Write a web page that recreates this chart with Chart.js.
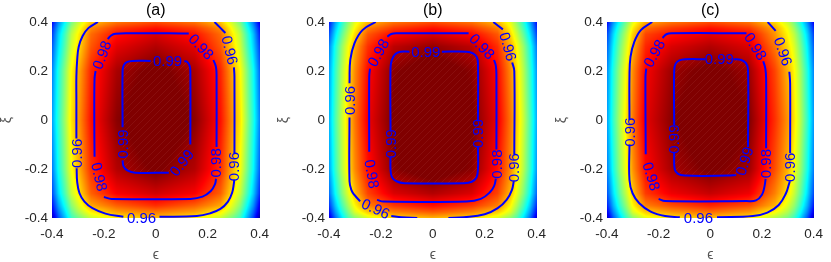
<!DOCTYPE html>
<html>
<head>
<meta charset="utf-8">
<script src="https://cdn.jsdelivr.net/npm/chart.js@4.4.0/dist/chart.umd.min.js"></script>
<style>
  html, body { margin: 0; padding: 0; background: #fff; }
  #wrap { position: relative; width: 831px; height: 262px; overflow: hidden; }
  #wrap canvas { position: absolute; top: 0; }
</style>
</head>
<body>
<div id="wrap">
  <canvas id="panelA" width="277" height="262" style="left:0"></canvas>
  <canvas id="panelB" width="277" height="262" style="left:277px"></canvas>
  <canvas id="panelC" width="276" height="262" style="left:555px"></canvas>
</div>
<script>
// axis ticks
const xTicks = [-0.4, -0.2, 0, 0.2, 0.4];
const yTicks = [-0.4, -0.2, 0, 0.2, 0.4];

// colour limits of the jet map
const colorMin = 0.89;
const colorMax = 0.99;

// grid nodes of the sampled field (epsilon, xi)
const gridX = [-0.4, -0.375, -0.35, -0.325, -0.3, -0.25, -0.15, 0, 0.15, 0.25, 0.3, 0.325, 0.35, 0.375, 0.4];
const gridY = [-0.4, -0.375, -0.35, -0.3, -0.2, 0, 0.2, 0.3, 0.35, 0.375, 0.4];

// field values, one row per gridY (bottom to top)
const fieldA = [
  [0.895, 0.910, 0.921, 0.933, 0.938, 0.947, 0.954, 0.959, 0.954, 0.947, 0.938, 0.933, 0.921, 0.909, 0.893],
  [0.900, 0.914, 0.925, 0.937, 0.944, 0.954, 0.962, 0.966, 0.962, 0.954, 0.944, 0.937, 0.925, 0.913, 0.898],
  [0.903, 0.918, 0.929, 0.941, 0.948, 0.961, 0.968, 0.973, 0.968, 0.961, 0.948, 0.941, 0.929, 0.917, 0.901],
  [0.909, 0.924, 0.935, 0.947, 0.954, 0.968, 0.978, 0.982, 0.978, 0.968, 0.954, 0.947, 0.935, 0.923, 0.907],
  [0.914, 0.929, 0.940, 0.952, 0.959, 0.973, 0.985, 0.991, 0.985, 0.973, 0.959, 0.952, 0.940, 0.928, 0.912],
  [0.918, 0.932, 0.943, 0.955, 0.962, 0.976, 0.989, 0.996, 0.989, 0.976, 0.962, 0.955, 0.943, 0.931, 0.916],
  [0.915, 0.930, 0.941, 0.953, 0.960, 0.974, 0.986, 0.992, 0.986, 0.974, 0.960, 0.953, 0.941, 0.929, 0.913],
  [0.911, 0.925, 0.936, 0.948, 0.955, 0.969, 0.980, 0.985, 0.980, 0.969, 0.955, 0.948, 0.936, 0.924, 0.909],
  [0.908, 0.923, 0.934, 0.946, 0.953, 0.967, 0.976, 0.981, 0.976, 0.967, 0.953, 0.946, 0.934, 0.922, 0.906],
  [0.906, 0.920, 0.931, 0.943, 0.950, 0.964, 0.972, 0.976, 0.972, 0.964, 0.950, 0.943, 0.931, 0.919, 0.904],
  [0.902, 0.916, 0.927, 0.939, 0.946, 0.958, 0.966, 0.970, 0.966, 0.958, 0.946, 0.939, 0.927, 0.915, 0.900]
];
const fieldB = [
  [0.898, 0.913, 0.925, 0.935, 0.941, 0.949, 0.956, 0.960, 0.956, 0.949, 0.941, 0.935, 0.925, 0.913, 0.898],
  [0.903, 0.918, 0.930, 0.940, 0.949, 0.958, 0.965, 0.969, 0.965, 0.958, 0.949, 0.940, 0.930, 0.918, 0.903],
  [0.907, 0.922, 0.934, 0.944, 0.953, 0.965, 0.972, 0.976, 0.972, 0.965, 0.953, 0.944, 0.934, 0.922, 0.907],
  [0.913, 0.928, 0.940, 0.950, 0.959, 0.971, 0.981, 0.985, 0.981, 0.971, 0.959, 0.950, 0.940, 0.928, 0.913],
  [0.918, 0.933, 0.945, 0.955, 0.964, 0.976, 0.989, 0.994, 0.989, 0.976, 0.964, 0.955, 0.945, 0.933, 0.918],
  [0.920, 0.935, 0.947, 0.957, 0.966, 0.979, 0.991, 0.997, 0.991, 0.979, 0.966, 0.957, 0.947, 0.935, 0.920],
  [0.918, 0.933, 0.945, 0.955, 0.964, 0.977, 0.989, 0.994, 0.989, 0.977, 0.964, 0.955, 0.945, 0.933, 0.918],
  [0.915, 0.930, 0.942, 0.952, 0.961, 0.973, 0.984, 0.988, 0.984, 0.973, 0.961, 0.952, 0.942, 0.930, 0.915],
  [0.910, 0.925, 0.937, 0.947, 0.956, 0.969, 0.977, 0.981, 0.977, 0.969, 0.956, 0.947, 0.937, 0.925, 0.910],
  [0.907, 0.922, 0.934, 0.944, 0.953, 0.965, 0.972, 0.976, 0.972, 0.965, 0.953, 0.944, 0.934, 0.922, 0.907],
  [0.904, 0.919, 0.931, 0.941, 0.950, 0.959, 0.966, 0.970, 0.966, 0.959, 0.950, 0.941, 0.931, 0.919, 0.904]
];
const fieldC = [
  [0.896, 0.911, 0.923, 0.933, 0.941, 0.950, 0.955, 0.959, 0.955, 0.945, 0.939, 0.933, 0.923, 0.911, 0.896],
  [0.901, 0.916, 0.928, 0.938, 0.949, 0.958, 0.963, 0.967, 0.963, 0.953, 0.945, 0.938, 0.928, 0.916, 0.901],
  [0.905, 0.920, 0.932, 0.942, 0.953, 0.965, 0.970, 0.974, 0.970, 0.960, 0.949, 0.942, 0.932, 0.920, 0.905],
  [0.910, 0.925, 0.937, 0.947, 0.958, 0.972, 0.979, 0.983, 0.979, 0.965, 0.955, 0.947, 0.937, 0.925, 0.910],
  [0.915, 0.930, 0.942, 0.952, 0.963, 0.977, 0.986, 0.991, 0.987, 0.970, 0.960, 0.952, 0.942, 0.930, 0.915],
  [0.918, 0.933, 0.945, 0.955, 0.966, 0.980, 0.989, 0.996, 0.990, 0.973, 0.963, 0.955, 0.945, 0.933, 0.918],
  [0.916, 0.931, 0.943, 0.953, 0.964, 0.978, 0.987, 0.992, 0.987, 0.971, 0.960, 0.953, 0.943, 0.931, 0.916],
  [0.912, 0.927, 0.939, 0.949, 0.960, 0.974, 0.981, 0.985, 0.981, 0.966, 0.956, 0.949, 0.939, 0.927, 0.912],
  [0.909, 0.924, 0.936, 0.946, 0.957, 0.971, 0.976, 0.980, 0.977, 0.963, 0.953, 0.946, 0.936, 0.924, 0.909],
  [0.906, 0.921, 0.933, 0.943, 0.954, 0.967, 0.972, 0.976, 0.972, 0.961, 0.951, 0.943, 0.933, 0.921, 0.906],
  [0.902, 0.917, 0.929, 0.939, 0.950, 0.961, 0.966, 0.970, 0.966, 0.956, 0.947, 0.939, 0.929, 0.917, 0.902]
];

// contour lines, split where the labels sit
const a96 = [
  [[-0.223, 0.4], [-0.259, 0.376], [-0.282, 0.343], [-0.297, 0.299], [-0.303, 0.245], [-0.306, 0.177], [-0.306, 0.08], [-0.306, -0.075]],
  [[-0.305, -0.197], [-0.303, -0.252], [-0.294, -0.299], [-0.275, -0.333], [-0.244, -0.36], [-0.194, -0.382], [-0.125, -0.395]],
  [[0.014, -0.395], [0.158, -0.392], [0.209, -0.381], [0.249, -0.363], [0.278, -0.333], [0.294, -0.297], [0.301, -0.258], [0.302, -0.245]],
  [[0.303, -0.135], [0.303, 0.177], [0.301, 0.215]],
  [[0.268, 0.355], [0.245, 0.38], [0.226, 0.4]]
];
const a98 = [
  [[-0.185, 0.33], [-0.172, 0.345], [-0.155, 0.352], [-0.1, 0.354], [0.05, 0.354], [0.127, 0.353]],
  [[0.222, 0.245], [0.232, 0.215], [0.234, 0.17], [0.234, -0.11]],
  [[0.232, -0.24], [0.228, -0.262], [0.212, -0.29], [0.18, -0.313], [0.133, -0.322], [-0.17, -0.322], [-0.2, -0.314]],
  [[-0.236, -0.15], [-0.237, 0.0], [-0.236, 0.17], [-0.232, 0.2]]
];
const a99 = [
  [[-0.128, -0.03], [-0.128, 0.2], [-0.124, 0.222], [-0.112, 0.236], [-0.09, 0.241], [-0.02, 0.241]],
  [[0.11, 0.241], [0.122, 0.236], [0.13, 0.222], [0.133, 0.2], [0.133, -0.1]],
  [[0.05, -0.215], [-0.08, -0.215], [-0.108, -0.207], [-0.124, -0.19], [-0.128, -0.165]]
];
const b96 = [
  [[-0.22, 0.4], [-0.271, 0.367], [-0.302, 0.313], [-0.318, 0.245], [-0.321, 0.15]],
  [[-0.321, 0.01], [-0.321, -0.25], [-0.314, -0.285], [-0.302, -0.306], [-0.28, -0.332]],
  [[-0.16, -0.392], [-0.12, -0.397], [-0.06, -0.4]],
  [[0.06, -0.4], [0.12, -0.397], [0.2, -0.385], [0.25, -0.36], [0.285, -0.325], [0.305, -0.285], [0.312, -0.25]],
  [[0.314, -0.14], [0.314, 0.2], [0.306, 0.235]],
  [[0.27, 0.37], [0.233, 0.4]]
];
const b98 = [
  [[-0.175, 0.34], [-0.16, 0.351], [-0.14, 0.354], [0.138, 0.354]],
  [[0.236, 0.245], [0.243, 0.22], [0.245, 0.18], [0.245, -0.12]],
  [[0.243, -0.24], [0.236, -0.27], [0.22, -0.295], [0.185, -0.322], [0.13, -0.333], [-0.19, -0.333], [-0.215, -0.326]],
  [[-0.245, -0.13], [-0.245, 0.177], [-0.242, 0.21]]
];
const b99 = [
  [[-0.163, -0.045], [-0.163, 0.21], [-0.158, 0.245], [-0.145, 0.268], [-0.125, 0.279], [-0.09, 0.279]],
  [[0.035, 0.279], [0.13, 0.279], [0.155, 0.272], [0.17, 0.255], [0.174, 0.23], [0.174, 0.0]],
  [[0.174, -0.11], [0.174, -0.2], [0.168, -0.235], [0.15, -0.252], [0.12, -0.258], [-0.11, -0.258], [-0.14, -0.25], [-0.158, -0.232], [-0.163, -0.2], [-0.163, -0.15]]
];
const c96 = [
  [[-0.225, 0.4], [-0.269, 0.367], [-0.294, 0.32], [-0.309, 0.258], [-0.313, 0.177], [-0.313, 0.0]],
  [[-0.313, -0.1], [-0.313, -0.245], [-0.301, -0.299], [-0.275, -0.34], [-0.231, -0.374], [-0.175, -0.392], [-0.118, -0.397]],
  [[0.026, -0.397], [0.165, -0.392], [0.221, -0.378], [0.265, -0.347], [0.293, -0.299], [0.305, -0.26], [0.308, -0.25]],
  [[0.309, -0.135], [0.309, 0.15], [0.306, 0.197]],
  [[0.253, 0.364], [0.222, 0.4]]
];
const c98 = [
  [[-0.185, 0.335], [-0.17, 0.35], [-0.15, 0.354], [0.14, 0.354]],
  [[0.205, 0.24], [0.213, 0.21], [0.216, 0.17], [0.216, -0.115]],
  [[0.214, -0.24], [0.21, -0.27], [0.2, -0.305], [0.177, -0.328], [0.14, -0.331], [-0.175, -0.331], [-0.2, -0.322]],
  [[-0.25, -0.14], [-0.251, 0.177], [-0.248, 0.21]]
];
const c99 = [
  [[-0.14, -0.02], [-0.14, 0.2], [-0.135, 0.228], [-0.12, 0.243], [-0.095, 0.248], [-0.02, 0.248]],
  [[0.09, 0.248], [0.12, 0.245], [0.138, 0.232], [0.146, 0.205], [0.146, -0.11]],
  [[0.1, -0.225], [0.07, -0.227], [-0.1, -0.227], [-0.125, -0.22], [-0.138, -0.2], [-0.14, -0.135]]
];

// contour labels: text, epsilon, xi, angle
const labelsA = [
  ['0.96', -0.306, -0.136, -90], ['0.96', -0.055, -0.398, 0], ['0.96', 0.302, -0.19, -90], ['0.96', 0.285, 0.285, 76],
  ['0.98', -0.208, 0.265, -69], ['0.98', 0.175, 0.299, 46], ['0.98', 0.233, -0.175, -90], ['0.98', -0.218, -0.232, 77],
  ['0.99', 0.045, 0.241, 0], ['0.99', 0.1, -0.175, -52], ['0.99', -0.128, -0.098, -90]
];
const labelsB = [
  ['0.96', -0.321, 0.08, -90], ['0.96', -0.22, -0.362, 25], ['0.96', 0.314, -0.195, -90], ['0.96', 0.29, 0.3, 74],
  ['0.98', -0.21, 0.275, -61], ['0.98', 0.19, 0.3, 46], ['0.98', 0.245, -0.18, -90], ['0.98', -0.235, -0.22, 80],
  ['0.99', -0.027, 0.279, 0], ['0.99', 0.174, -0.055, -90], ['0.99', -0.163, -0.097, -90]
];
const labelsC = [
  ['0.96', -0.313, -0.05, -90], ['0.96', -0.046, -0.399, 0], ['0.96', 0.309, -0.193, -90], ['0.96', 0.282, 0.28, 71],
  ['0.98', -0.217, 0.272, -61], ['0.98', 0.175, 0.3, 58], ['0.98', 0.216, -0.178, -90], ['0.98', -0.228, -0.23, 73],
  ['0.99', 0.035, 0.248, 0], ['0.99', 0.132, -0.168, -73], ['0.99', -0.14, -0.078, -90]
];

Chart.defaults.font.family = '"Liberation Sans", Arial, sans-serif';

function jet(t) {
  t = Math.max(0, Math.min(1, t));
  const c = v => Math.max(0, Math.min(1, 1.5 - Math.abs(4 * t - v)));
  return [c(3), c(2), c(1)];
}

function sample(field, x, y) {
  let i = 0;
  while (i < gridX.length - 2 && x > gridX[i + 1]) i++;
  let j = 0;
  while (j < gridY.length - 2 && y > gridY[j + 1]) j++;
  const tx = Math.max(0, Math.min(1, (x - gridX[i]) / (gridX[i + 1] - gridX[i])));
  const ty = Math.max(0, Math.min(1, (y - gridY[j]) / (gridY[j + 1] - gridY[j])));
  const lo = field[j][i] * (1 - tx) + field[j][i + 1] * tx;
  const hi = field[j + 1][i] * (1 - tx) + field[j + 1][i + 1] * tx;
  return lo * (1 - ty) + hi * ty;
}

// paints the field under the contour lines, pixel by pixel through the scales,
// then the faint hatching inside the innermost contour
function heatmapPlugin(field, inner) {
  return {
    id: 'heatmap',
    beforeDatasetsDraw(chart) {
      const { ctx, chartArea: a, scales: { x, y } } = chart;
      const w = Math.round(a.right - a.left);
      const h = Math.round(a.bottom - a.top);
      const off = document.createElement('canvas');
      off.width = w;
      off.height = h;
      const octx = off.getContext('2d');
      const img = octx.createImageData(w, h);
      for (let py = 0; py < h; py++) {
        const vy = y.getValueForPixel(a.top + py + 0.5);
        for (let px = 0; px < w; px++) {
          const vx = x.getValueForPixel(a.left + px + 0.5);
          const [r, g, b] = jet((sample(field, vx, vy) - colorMin) / (colorMax - colorMin));
          const k = (py * w + px) * 4;
          img.data[k] = r * 255;
          img.data[k + 1] = g * 255;
          img.data[k + 2] = b * 255;
          img.data[k + 3] = 255;
        }
      }
      octx.putImageData(img, 0, 0);
      ctx.drawImage(off, a.left, a.top);

      ctx.save();
      ctx.beginPath();
      inner.flat().forEach(([vx, vy], i) => {
        const px = x.getPixelForValue(vx), py = y.getPixelForValue(vy);
        if (i === 0) ctx.moveTo(px, py); else ctx.lineTo(px, py);
      });
      ctx.closePath();
      ctx.clip();
      ctx.strokeStyle = 'rgba(255, 200, 200, 0.07)';
      ctx.lineWidth = 1;
      ctx.beginPath();
      for (let s = -h; s < w; s += 7) {
        ctx.moveTo(a.left + s, a.bottom);
        ctx.lineTo(a.left + s + h, a.top);
      }
      ctx.stroke();
      ctx.restore();
    }
  };
}

function labelPlugin(list) {
  return {
    id: 'clabels',
    afterDatasetsDraw(chart) {
      const { ctx, scales: { x, y } } = chart;
      ctx.save();
      ctx.fillStyle = '#0000ff';
      ctx.font = '15px "Liberation Sans", Arial, sans-serif';
      ctx.textAlign = 'center';
      ctx.textBaseline = 'middle';
      list.forEach(([text, vx, vy, rot]) => {
        ctx.save();
        ctx.translate(x.getPixelForValue(vx), y.getPixelForValue(vy));
        ctx.rotate(rot * Math.PI / 180);
        ctx.fillText(text, 0, 1);
        ctx.restore();
      });
      ctx.restore();
    }
  };
}

function contourSets(segments) {
  return segments.map(seg => ({
    data: seg.map(([x, y]) => ({ x, y })),
    showLine: true,
    borderColor: '#0000ff',
    borderWidth: 2,
    pointRadius: 0,
    tension: 0.4,
    fill: false
  }));
}

function axis(ticks, title, isX) {
  return {
    type: 'linear',
    min: -0.4,
    max: 0.4,
    afterBuildTicks: s => { s.ticks = ticks.map(v => ({ value: v })); },
    afterFit: s => { if (isX) s.height = 44; else s.width = 52; },
    ticks: {
      callback: v => String(+v.toFixed(1)),
      color: '#262626',
      font: { size: 13.5 },
      padding: isX ? 8 : 4,
      maxRotation: 0,
      autoSkip: false
    },
    grid: { display: false, drawTicks: false },
    border: { display: false },
    title: {
      display: true,
      text: title,
      color: '#555555',
      font: { size: 14, lineHeight: 1 },
      padding: 0
    }
  };
}

function renderPanel(id, name, field, segments, inner, labels, rightPad) {
  new Chart(document.getElementById(id), {
    type: 'scatter',
    data: { datasets: contourSets(segments) },
    options: {
      responsive: false,
      animation: false,
      events: [],
      layout: { padding: { left: 0, right: rightPad, top: 0, bottom: 0 } },
      scales: {
        x: axis(xTicks, 'ϵ', true),
        y: axis(yTicks, 'ξ', false)
      },
      plugins: {
        legend: { display: false },
        tooltip: { enabled: false },
        title: {
          display: true,
          text: name,
          fullSize: false,
          color: '#000000',
          font: { size: 16, weight: 'normal', lineHeight: 1.1 },
          padding: { top: 2, bottom: 2.4 }
        }
      }
    },
    plugins: [heatmapPlugin(field, inner), labelPlugin(labels)]
  });
}

renderPanel('panelA', '(a)', fieldA, [...a96, ...a98, ...a99], a99, labelsA, 13);
renderPanel('panelB', '(b)', fieldB, [...b96, ...b98, ...b99], b99, labelsB, 13);
renderPanel('panelC', '(c)', fieldC, [...c96, ...c98, ...c99], c99, labelsC, 12);
</script>
</body>
</html>
